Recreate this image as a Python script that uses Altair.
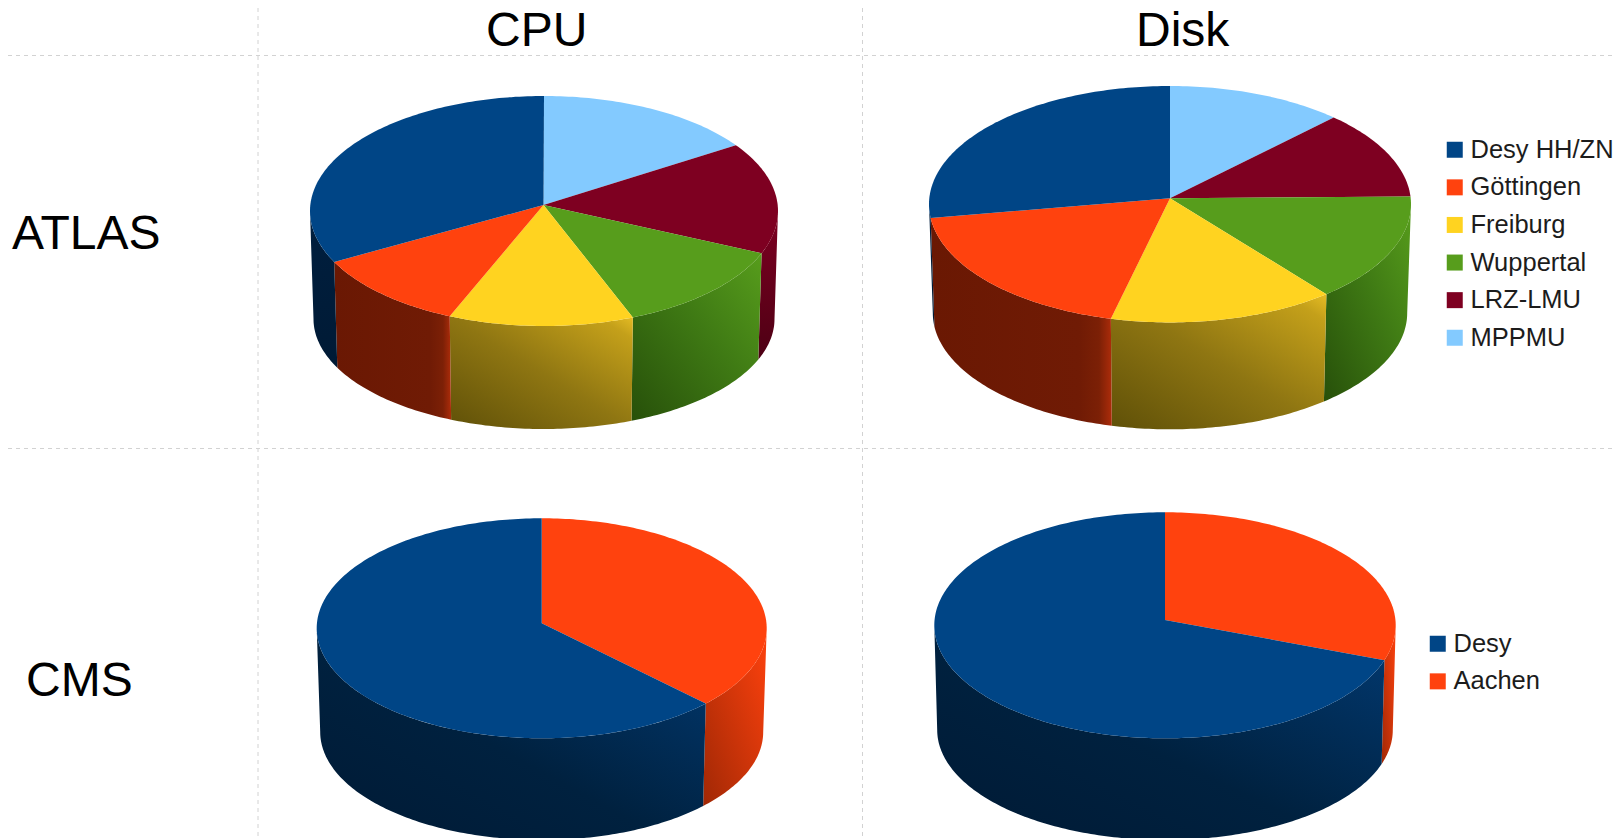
import math
import altair as alt
import pandas as pd

W, H = 1615, 838
M = 8

atlas_sites = ["Desy HH/ZN", "Göttingen", "Freiburg", "Wuppertal", "LRZ-LMU", "MPPMU"]
atlas_colors = ["#004586", "#ff420e", "#ffd320", "#579d1c", "#7e0021", "#83caff"]
cms_sites = ["Desy", "Aachen"]
cms_colors = ["#004586", "#ff420e"]

atlas_cpu = [32.3, 11.1, 12.8, 12.8, 15.7, 15.3]
atlas_disk = [26.9, 19.2, 15.2, 14.8, 12.1, 11.9]
cms_cpu = [63.0, 37.0]
cms_disk = [70.0, 30.0]

# apex x/y, top ellipse cx/cy/rx/ry, bottom ellipse cx/cy/rx/ry
GEOM = {
    "atlas_cpu": (543.5, 205, 544, 211, 234, 115, 544, 319, 230.5, 110),
    "atlas_disk": (1170, 198.3, 1170, 204.2, 241, 118.2, 1170, 313, 237.2, 116.3),
    "cms_cpu": (541.7, 623.3, 541.7, 628.3, 225, 110, 541.7, 732, 221.5, 108),
    "cms_disk": (1165, 620, 1165, 625.3, 230.7, 113, 1165, 730, 227.8, 110),
}

DIAG = dict(x1=0, y1=1, x2=1, y2=0)
HORIZ = dict(x1=0, y1=0, x2=1, y2=0)
VERT = dict(x1=0, y1=0, x2=0, y2=1)
SHADE_ATLAS = {
    "Desy HH/ZN": (VERT, [(0, "#001f3f"), (1, "#001a35")]),
    "Göttingen": (HORIZ, [(0, "#6a1803"), (0.82, "#701b05"), (0.93, "#7c2006"), (1, "#ad2c0a")]),
    "Freiburg": (DIAG, [(0, "#5f5008"), (0.5, "#8f7612"), (0.9, "#c4a01a"), (1, "#e6bd24")]),
    "Wuppertal": (DIAG, [(0, "#27500a"), (0.55, "#3f7a14"), (1, "#579d1c")]),
    "LRZ-LMU": (VERT, [(0, "#7e0021"), (1, "#4d0014")]),
    "MPPMU": (VERT, [(0, "#83caff"), (1, "#4d7a99")]),
}
SHADE_CMS = {
    "Desy": (DIAG, [(0, "#001a35"), (0.45, "#00213f"), (1, "#023a72")]),
    "Aachen": (DIAG, [(0, "#a02805"), (1, "#ff420e")]),
}


def pt(t, cx, cy, rx, ry):
    a = math.radians(t)
    return cx + rx * math.sin(a), cy - ry * math.cos(a)


def slices(shares, sites):
    """Angles (degrees clockwise from 12 o'clock), last site first."""
    total = sum(shares)
    t = 0.0
    out = []
    for site, v in zip(reversed(sites), reversed(shares)):
        d = v / total * 360
        out.append((site, t, t + d))
        t += d
    return out


def arc(t0, t1):
    n = max(2, int(abs(t1 - t0)) + 1)
    return [t0 + (t1 - t0) * k / (n - 1) for k in range(n)]


top_rows = {"atlas": [], "cms": []}
wall_layers = []
x_enc = alt.X("x:Q", scale=alt.Scale(domain=[M, W], range=[0, W - M], nice=False, zero=False), axis=None)
y_enc = alt.Y("y:Q", scale=alt.Scale(domain=[M, H], range=[0, H - M], nice=False, zero=False), axis=None)

for name, shares, sites, shade in [
    ("atlas_cpu", atlas_cpu, atlas_sites, SHADE_ATLAS),
    ("atlas_disk", atlas_disk, atlas_sites, SHADE_ATLAS),
    ("cms_cpu", cms_cpu, cms_sites, SHADE_CMS),
    ("cms_disk", cms_disk, cms_sites, SHADE_CMS),
]:
    ax, ay, cx, cy, rx, ry, bx, by, brx, bry = GEOM[name]
    group = name.split("_")[0]
    for site, t0, t1 in slices(shares, sites):
        i = 0
        rows = [dict(x=ax, y=ay, i=i, site=site, key=name + site)]
        for t in arc(t0, t1):
            i += 1
            px, py = pt(t, cx, cy, rx, ry)
            rows.append(dict(x=px, y=py, i=i, site=site, key=name + site))
        top_rows[group] += rows

        w0, w1 = max(t0, 90), min(t1, 270)
        if w1 <= w0:
            continue
        wall = []
        for t in arc(w0, w1):
            px, py = pt(t, cx, cy, rx, ry)
            wall.append(dict(x=px, y=py, i=len(wall)))
        for t in arc(w1, w0):
            px, py = pt(t, bx, by, brx, bry)
            wall.append(dict(x=px, y=py, i=len(wall)))
        coords, stops = shade[site]
        grad = alt.Gradient(
            gradient="linear",
            stops=[alt.GradientStop(offset=o, color=c) for o, c in stops],
            **coords,
        )
        wall_layers.append(
            alt.Chart(pd.DataFrame(wall))
            .mark_line(filled=True, fill=grad, clip=True)
            .encode(x=x_enc, y=y_enc, order=alt.Order("i:Q"))
        )


def legend(x, y):
    return alt.Legend(
        title=None,
        orient="none",
        legendX=x - M,
        legendY=y - M,
        padding=0,
        symbolType="square",
        symbolSize=256,
        symbolStrokeWidth=0,
        symbolOpacity=1,
        labelFont="Liberation Sans",
        labelFontSize=25.5,
        labelColor="#1c1c1c",
        labelOffset=3,
        rowPadding=10.6,
        labelLimit=400,
    )


def top_layer(rows, sites, colors, leg):
    return (
        alt.Chart(pd.DataFrame(rows))
        .mark_line(filled=True, clip=True)
        .encode(
            x=x_enc,
            y=y_enc,
            order=alt.Order("i:Q"),
            detail="key:N",
            color=alt.Color("site:N", scale=alt.Scale(domain=sites, range=colors), legend=leg),
        )
    )


top_atlas = top_layer(top_rows["atlas"], atlas_sites, atlas_colors, legend(1442, 137))
top_cms = top_layer(top_rows["cms"], cms_sites, cms_colors, legend(1425, 631))

# grid lines
grid_x = [258, 862.5]
grid_y = [55.5, 448.5]
vgrid = (
    alt.Chart(pd.DataFrame({"x": grid_x}))
    .mark_rule(color="#d2d2d2", strokeDash=[4, 4], strokeWidth=1)
    .encode(x=x_enc, y=alt.value(0), y2=alt.value(H - M))
)
hgrid = (
    alt.Chart(pd.DataFrame({"y": grid_y}))
    .mark_rule(color="#d2d2d2", strokeDash=[4, 4], strokeWidth=1)
    .encode(y=y_enc, x=alt.value(0), x2=alt.value(W - M))
)

# headings
head_text = ["CPU", "Disk", "ATLAS", "CMS"]
head_x = [486, 1136, 12, 26]
head_y = [46, 46, 249, 696]
heads = (
    alt.Chart(pd.DataFrame({"t": head_text, "x": head_x, "y": head_y}))
    .mark_text(font="Liberation Sans", fontSize=48, color="#000000", align="left", baseline="alphabetic")
    .encode(x=x_enc, y=y_enc, text="t:N")
)

chart = (
    alt.layer(vgrid, hgrid, *wall_layers, top_atlas, top_cms, heads)
    .resolve_scale(color="independent")
    .properties(
        width=W - M,
        height=H - M,
        padding=0,
        autosize=alt.AutoSizeParams(type="none"),
        background="#ffffff",
    )
    .configure_view(stroke=None)
)

chart.save("out.html", embed_options={"renderer": "svg", "actions": False})
